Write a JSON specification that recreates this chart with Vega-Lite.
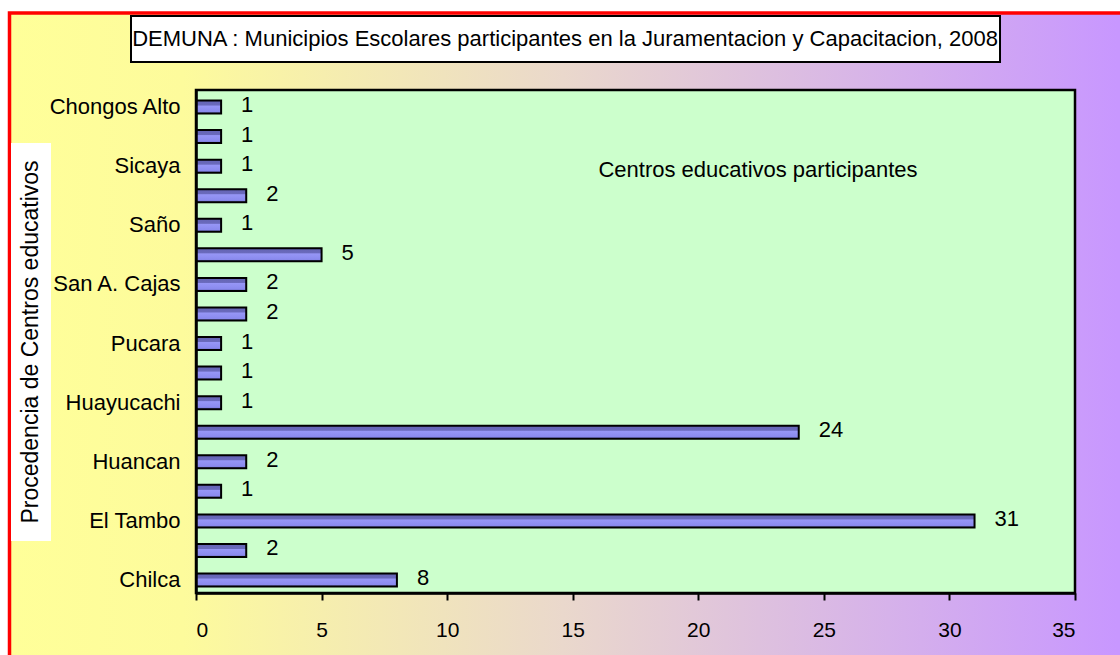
{
  "$schema": "https://vega.github.io/schema/vega-lite/v6.json",
  "width": 879,
  "height": 503,
  "padding": {"left": 196, "top": 90, "right": 45, "bottom": 62},
  "autosize": {"type": "none"},
  "background": "white",
  "config": {
    "view": {"stroke": null},
    "font": "Liberation Sans",
    "axis": {"labelFont": "Liberation Sans", "labelColor": "black", "domainColor": "black", "tickColor": "black"}
  },
  "datasets": {
    "centros": [
      {"procedencia": "Chongos Alto", "centros": 1},
      {"procedencia": "Viques", "centros": 1},
      {"procedencia": "Sicaya", "centros": 1},
      {"procedencia": "Sapallanga", "centros": 2},
      {"procedencia": "Saño", "centros": 1},
      {"procedencia": "San Jerónimo", "centros": 5},
      {"procedencia": "San A. Cajas", "centros": 2},
      {"procedencia": "Quilcas", "centros": 2},
      {"procedencia": "Pucara", "centros": 1},
      {"procedencia": "Pilcomayo", "centros": 1},
      {"procedencia": "Huayucachi", "centros": 1},
      {"procedencia": "Huancayo", "centros": 24},
      {"procedencia": "Huancan", "centros": 2},
      {"procedencia": "Hualhuas", "centros": 1},
      {"procedencia": "El Tambo", "centros": 31},
      {"procedencia": "Chupaca", "centros": 2},
      {"procedencia": "Chilca", "centros": 8}
    ]
  },
  "layer": [
    {
      "data": {"values": [{}]},
      "mark": {
        "type": "rect",
        "stroke": "#ff0000",
        "strokeWidth": 3.5,
        "fill": {
          "gradient": "linear", "x1": 0, "y1": 0, "x2": 1, "y2": 0,
          "stops": [
            {"offset": 0, "color": "#ffff99"},
            {"offset": 0.15, "color": "#fdfb9c"},
            {"offset": 0.48, "color": "#ead8cc"},
            {"offset": 0.96, "color": "#c897ff"},
            {"offset": 1, "color": "#c897ff"}
          ]
        }
      },
      "encoding": {
        "x": {"datum": -7.426, "type": "quantitative", "scale": {"domain": [0, 35], "nice": false}},
        "x2": {"datum": 38.5},
        "y": {"datum": "Chongos Alto", "type": "nominal", "bandPosition": -6.73},
        "y2": {"datum": "Chongos Alto", "bandPosition": 46}
      }
    },
    {
      "data": {"values": [{}]},
      "mark": {"type": "rect", "fill": "#ccffcc", "stroke": "black", "strokeWidth": 2.5},
      "encoding": {
        "x": {"datum": 0, "type": "quantitative"},
        "x2": {"datum": 35},
        "y": {"datum": "Chongos Alto", "type": "nominal", "bandPosition": -0.81},
        "y2": {"datum": "Chongos Alto", "bandPosition": 37.861}
      }
    },
    {
      "data": {"values": [{}]},
      "mark": {"type": "rect", "fill": "white", "stroke": "black", "strokeWidth": 2},
      "encoding": {
        "x": {"datum": -2.588, "type": "quantitative"},
        "x2": {"datum": 32.014},
        "y": {"datum": "Chongos Alto", "type": "nominal", "bandPosition": -6.5},
        "y2": {"datum": "Chongos Alto", "bandPosition": -2.963}
      }
    },
    {
      "data": {"values": [{"t": "DEMUNA : Municipios Escolares participantes en la Juramentacion y Capacitacion, 2008"}]},
      "mark": {"type": "text", "fontSize": 22, "color": "black", "align": "center", "baseline": "middle"},
      "encoding": {
        "text": {"field": "t"},
        "x": {"datum": 14.693, "type": "quantitative"},
        "y": {"datum": "Chongos Alto", "type": "nominal", "bandPosition": -4.731}
      }
    },
    {
      "data": {"values": [{}]},
      "mark": {"type": "rect", "fill": "white"},
      "encoding": {
        "x": {"datum": -7.366, "type": "quantitative"},
        "x2": {"datum": -5.774},
        "y": {"datum": "Chongos Alto", "type": "nominal", "bandPosition": 3.264},
        "y2": {"datum": "Chongos Alto", "bandPosition": 33.863}
      }
    },
    {
      "data": {"values": [{"t": "Procedencia de Centros educativos"}]},
      "mark": {"type": "text", "fontSize": 23, "angle": 270, "color": "black", "align": "center", "baseline": "middle"},
      "encoding": {
        "text": {"field": "t"},
        "x": {"datum": -6.57, "type": "quantitative"},
        "y": {"datum": "Chongos Alto", "type": "nominal", "bandPosition": 18.564}
      }
    },
    {
      "data": {"values": [{"t": "Centros educativos participantes"}]},
      "mark": {"type": "text", "fontSize": 22, "color": "black", "align": "center", "baseline": "middle"},
      "encoding": {
        "text": {"field": "t"},
        "x": {"datum": 22.378, "type": "quantitative"},
        "y": {"datum": "Chongos Alto", "type": "nominal", "bandPosition": 5.34}
      }
    },
    {
      "data": {"name": "centros"},
      "mark": {
        "type": "bar",
        "stroke": "black",
        "strokeWidth": 2,
        "fill": {
          "gradient": "linear", "x1": 0, "y1": 0, "x2": 0, "y2": 1,
          "stops": [
            {"offset": 0, "color": "#6464b4"},
            {"offset": 0.35, "color": "#6a6abc"},
            {"offset": 0.42, "color": "#9696f6"},
            {"offset": 0.85, "color": "#8a8aee"},
            {"offset": 1, "color": "#5a5aa8"}
          ]
        }
      },
      "encoding": {
        "y": {
          "field": "procedencia",
          "type": "nominal",
          "scale": {
            "domain": ["Chongos Alto", "Viques", "Sicaya", "Sapallanga", "Saño", "San Jerónimo", "San A. Cajas", "Quilcas", "Pucara", "Pilcomayo", "Huayucachi", "Huancayo", "Huancan", "Hualhuas", "El Tambo", "Chupaca", "Chilca"],
            "paddingInner": 0.56,
            "paddingOuter": 0.2875,
            "align": 0.62
          },
          "axis": {
            "title": null,
            "ticks": false,
            "domainWidth": 2.5,
            "labelFontSize": 22,
            "labelPadding": 16,
            "zindex": 1,
            "labelExpr": "indexof(['Viques','Sapallanga','San Jerónimo','Quilcas','Pilcomayo','Huancayo','Hualhuas','Chupaca'], datum.value) >= 0 ? '' : datum.value"
          }
        },
        "x": {
          "field": "centros",
          "type": "quantitative",
          "scale": {"domain": [0, 35], "nice": false},
          "axis": {
            "title": null,
            "values": [0, 5, 10, 15, 20, 25, 30, 35],
            "grid": false,
            "tickSize": 7,
            "tickWidth": 2,
            "domainWidth": 2.5,
            "labelFontSize": 21,
            "labelPadding": 19,
            "zindex": 1
          }
        }
      }
    },
    {
      "data": {"name": "centros"},
      "mark": {"type": "text", "align": "left", "baseline": "middle", "dx": 20, "dy": -2, "fontSize": 22, "color": "black"},
      "encoding": {
        "y": {"field": "procedencia", "type": "nominal"},
        "x": {"field": "centros", "type": "quantitative"},
        "text": {"field": "centros", "type": "quantitative"}
      }
    }
  ]
}
